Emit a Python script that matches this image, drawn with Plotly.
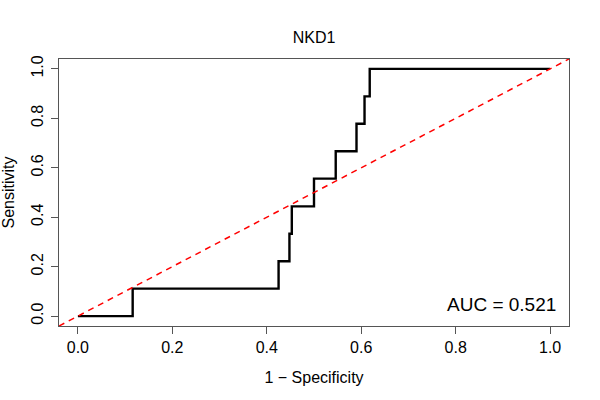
import plotly.graph_objects as go

# ROC data for NKD1
fpr = [0.0, 0.116, 0.425, 0.448, 0.453, 0.500, 0.546, 0.590, 0.607, 0.618, 1.0]
tpr = [0.0, 0.111, 0.222, 0.333, 0.444, 0.556, 0.667, 0.778, 0.889, 1.0, 1.0]
auc_value = 0.521
title_text = "NKD1"
tick_vals = [0.0, 0.2, 0.4, 0.6, 0.8, 1.0]
tick_text = ["0.0", "0.2", "0.4", "0.6", "0.8", "1.0"]
axis_range = [-0.04, 1.04]

FONT = "Liberation Sans, Arial, Helvetica, sans-serif"
AXC = "#555555"
W, H = 600, 400

fig = go.Figure()

fig.add_trace(go.Scatter(
    x=fpr, y=tpr, mode="lines", line_shape="hv",
    line=dict(color="black", width=2.4), hoverinfo="skip", showlegend=False,
))

# reference diagonal (abline 0,1) spanning the whole plot region
fig.add_trace(go.Scatter(
    x=axis_range, y=axis_range, mode="lines",
    line=dict(color="#FF0000", width=1.5, dash="6px,5px"),
    hoverinfo="skip", showlegend=False,
))

fig.add_annotation(
    x=1.0, y=0.0, xref="x", yref="y", xanchor="right", yanchor="bottom",
    text=f"AUC = {auc_value}", showarrow=False,
    font=dict(size=19, color="black", family=FONT), xshift=8, yshift=-1,
)

axis_common = dict(
    range=axis_range, tickvals=tick_vals, ticktext=tick_text,
    showgrid=False, zeroline=False, showline=True, mirror=True,
    linecolor=AXC, linewidth=1, ticks="outside", ticklen=7,
    tickcolor=AXC, tickwidth=1, automargin=False,
    tickfont=dict(size=16, color="black", family=FONT),
)

fig.update_layout(
    width=W, height=H,
    margin=dict(l=59, r=31, t=59, b=74),
    paper_bgcolor="white", plot_bgcolor="white",
    font=dict(family=FONT, color="black"),
    title=dict(text=title_text, x=0.5, xref="paper", xanchor="center",
               y=1 - 37 / H, yanchor="middle", automargin=False,
               font=dict(size=16, color="black", family=FONT)),
    xaxis=dict(**axis_common,
               title=dict(text="1 − Specificity", font=dict(size=16, family=FONT), standoff=16)),
    yaxis=dict(**axis_common, tickangle=-90, ticklabelstandoff=2,
               title=dict(text="Sensitivity", font=dict(size=16, family=FONT), standoff=16)),
)

fig.write_html("out.html",
               config={"displayModeBar": False},
               post_script="document.body.style.margin='0';document.body.style.padding='0';")
